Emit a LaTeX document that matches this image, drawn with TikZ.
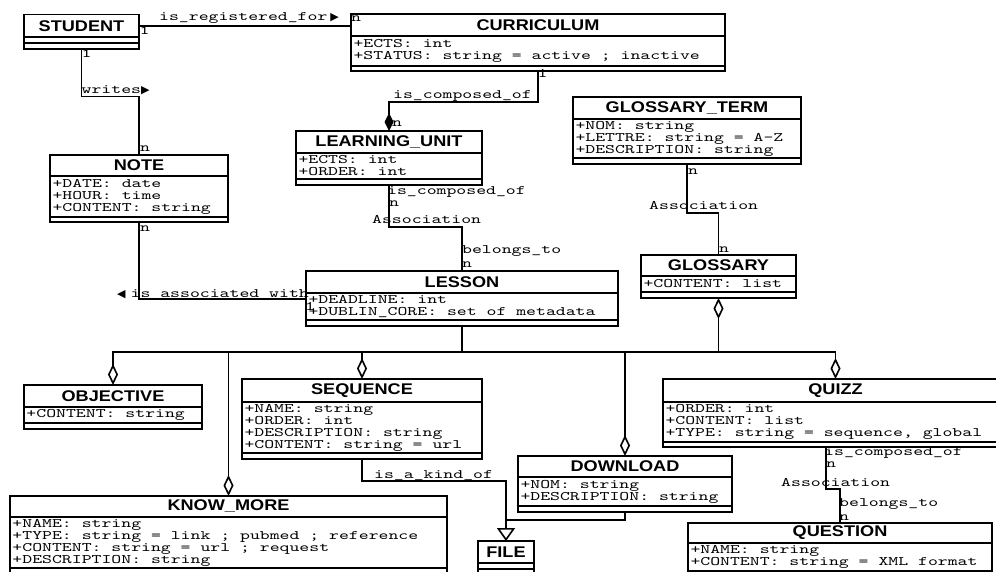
\documentclass[tikz,border=0pt]{standalone}
\usepackage{fontspec}
\newfontfamily\headfont[FakeStretch=1.17]{Liberation Sans}
\newfontfamily\attrfont[FakeStretch=1.45]{lmmono10-regular.otf}
\newfontfamily\symfont{DejaVu Sans}
\usetikzlibrary{arrows.meta}
\newcommand{\ws}{\hphantom{x}}

\begin{document}
\begin{tikzpicture}[x=1pt,y=-1pt,
    classtitle/.style={draw, line width=1.8pt, outer sep=0pt, inner sep=0pt, anchor=north west, minimum height=22, font={\headfont\bfseries\fontsize{15.5}{18}\selectfont}},
    monotext/.style={font={\attrfont\fontsize{13}{12}\selectfont}},
    classattr/.style={draw, line width=1.8pt, outer sep=0pt, inner xsep=2.5pt, inner ysep=0pt, anchor=north west, align=left, monotext},
    classfoot/.style={draw, line width=1.8pt, outer sep=0pt, inner sep=0pt, anchor=north west, minimum height=6},
    assoc/.style={line width=1.6pt},
    aggr/.style={assoc, -{Diamond[open, length=21pt, width=10pt]}},
    comp/.style={assoc, -{Diamond[length=18pt, width=9pt]}},
    gener/.style={assoc, -{Triangle[open, length=13pt, width=18pt]}},
    lbl/.style={inner sep=0pt, anchor=base west, monotext}]
    \useasboundingbox (0,0) rectangle (996,572);
    \clip (0,0) rectangle (996,572);

    %Shape: Class [STUDENT]
    \node[classtitle, minimum width=115, minimum height=22.5] (student) at (24,14.5) {STUDENT};
    \node[classfoot, minimum width=115] (studentattr) at (student.south west) {};
    \node[classfoot, minimum width=115] (studentfoot) at (studentattr.south west) {};
    %Shape: Class [CURRICULUM]
    \node[classtitle, minimum width=374] (curriculum) at (351,14) {CURRICULUM};
    \node[classattr, text width=369, minimum height=30] (curriculumattr) at (curriculum.south west) {+ECTS:\ws int\\+STATUS:\ws string\ws=\ws active\ws;\ws inactive};
    \node[classfoot, minimum width=374, minimum height=5] (curriculumfoot) at (curriculumattr.south west) {};
    %Shape: Class [LEARNING_UNIT]
    \node[classtitle, minimum width=186] (lu) at (296,131) {LEARNING\_UNIT};
    \node[classattr, text width=181, minimum height=26] (luattr) at (lu.south west) {+ECTS:\ws int\\+ORDER:\ws int};
    \node[classfoot, minimum width=186] (lufoot) at (luattr.south west) {};
    %Shape: Class [GLOSSARY_TERM]
    \node[classtitle, minimum width=228] (gt) at (573,97) {GLOSSARY\_TERM};
    \node[classattr, text width=223, minimum height=39] (gtattr) at (gt.south west) {+NOM:\ws string\\+LETTRE:\ws string\ws=\ws A-Z\\+DESCRIPTION:\ws string};
    \node[classfoot, minimum width=228] (gtfoot) at (gtattr.south west) {};
    %Shape: Class [NOTE]
    \node[classtitle, minimum width=178, minimum height=21] (note) at (50,155) {NOTE};
    \node[classattr, text width=173, minimum height=41] (noteattr) at (note.south west) {+DATE:\ws date\\+HOUR:\ws time\\+CONTENT:\ws string};
    \node[classfoot, minimum width=178, minimum height=5] (notefoot) at (noteattr.south west) {};
    %Shape: Class [GLOSSARY]
    \node[classtitle, minimum width=155, minimum height=21] (glossary) at (641,255) {GLOSSARY};
    \node[classattr, text width=150, minimum height=16] (glossaryattr) at (glossary.south west) {+CONTENT:\ws list};
    \node[classfoot, minimum width=155] (glossaryfoot) at (glossaryattr.south west) {};
    %Shape: Class [LESSON]
    \node[classtitle, minimum width=312] (lesson) at (306,271) {LESSON};
    \node[classattr, text width=307, minimum height=27] (lessonattr) at (lesson.south west) {+DEADLINE:\ws int\\+DUBLIN\_CORE:\ws set\ws of\ws metadata};
    \node[classfoot, minimum width=312] (lessonfoot) at (lessonattr.south west) {};
    %Shape: Class [OBJECTIVE]
    \node[classtitle, minimum width=178] (objective) at (24,385) {OBJECTIVE};
    \node[classattr, text width=173, minimum height=16] (objectiveattr) at (objective.south west) {+CONTENT:\ws string};
    \node[classfoot, minimum width=178] (objectivefoot) at (objectiveattr.south west) {};
    %Shape: Class [SEQUENCE]
    \node[classtitle, minimum width=240, minimum height=23] (sequence) at (242,379) {SEQUENCE};
    \node[classattr, text width=235, minimum height=51] (sequenceattr) at (sequence.south west) {+NAME:\ws string\\+ORDER:\ws int\\+DESCRIPTION:\ws string\\+CONTENT:\ws string\ws=\ws url};
    \node[classfoot, minimum width=240] (sequencefoot) at (sequenceattr.south west) {};
    %Shape: Class [QUIZZ]
    \node[classtitle, minimum width=345, minimum height=23] (quizz) at (663,379) {QUIZZ};
    \node[classattr, text width=340, minimum height=40] (quizzattr) at (quizz.south west) {+ORDER:\ws int\\+CONTENT:\ws list\\+TYPE:\ws string\ws=\ws sequence,\ws global};
    \node[classfoot, minimum width=345, minimum height=5] (quizzfoot) at (quizzattr.south west) {};
    %Shape: Class [DOWNLOAD]
    \node[classtitle, minimum width=214, minimum height=21] (download) at (518,456) {DOWNLOAD};
    \node[classattr, text width=209, minimum height=29] (downloadattr) at (download.south west) {+NOM:\ws string\\+DESCRIPTION:\ws string};
    \node[classfoot, minimum width=214] (downloadfoot) at (downloadattr.south west) {};
    %Shape: Class [KNOW_MORE]
    \node[classtitle, minimum width=437, minimum height=21] (knowmore) at (10,496) {KNOW\_MORE};
    \node[classattr, text width=432, minimum height=51] (knowmoreattr) at (knowmore.south west) {+NAME:\ws string\\+TYPE:\ws string\ws=\ws link\ws;\ws pubmed\ws;\ws reference\\+CONTENT:\ws string\ws=\ws url\ws;\ws request\\+DESCRIPTION:\ws string};
    \node[classfoot, minimum width=437] (knowmorefoot) at (knowmoreattr.south west) {};
    %Shape: Class [FILE]
    \node[classtitle, minimum width=56] (file) at (478,541) {FILE};
    \node[classfoot, minimum width=56] (fileattr) at (file.south west) {};
    \node[classfoot, minimum width=56] (filefoot) at (fileattr.south west) {};
    %Shape: Class [QUESTION]
    \node[classtitle, minimum width=304, minimum height=20] (question) at (688,523) {QUESTION};
    \node[classattr, text width=299, minimum height=28] (questionattr) at (question.south west) {+NAME:\ws string\\+CONTENT:\ws string\ws=\ws XML\ws format};

    %Straight Lines [is_registered_for]
    \draw[assoc] (student.east) -- (student.east -| curriculum.west);
    %Straight Lines [writes]
    \coordinate (writesbend) at (81.5,96.5);
    \draw[assoc] (studentfoot.south) -- (writesbend) -| (note.north);
    %Straight Lines [is_associated_with]
    \coordinate (notebend) at (139,299);
    \draw[assoc] (notefoot.south) -- (notebend) -- (notebend -| lessonattr.west);
    %Straight Lines [is_composed_of]
    \coordinate (curbend) at (538,102);
    \draw[comp] (curriculumfoot.south) -- (curbend) -| (lu.north);
    %Straight Lines [lesson association]
    \coordinate (lubend) at (389,227);
    \draw[assoc] (lufoot.south) -- (lubend) -| (lesson.north);
    %Straight Lines [glossary association]
    \coordinate (gtbend) at (687,213);
    \draw[assoc] (gtfoot.south) -- (gtbend) -| (glossary.north);
    %Straight Lines [aggregations]
    \coordinate (hub) at (462,352);
    \draw[assoc] (lessonfoot.south) -- (hub);
    \foreach \part in {objective, knowmore, sequence, download, quizz}
        \draw[aggr] (hub) -| (\part.north);
    \draw[aggr] (hub) -| (glossaryfoot.south);
    %Straight Lines [is_a_kind_of]
    \coordinate (seqbend) at (362,481);
    \draw[gener] (sequencefoot.south) -- (seqbend) -| (file.north);
    \coordinate (dlbend) at (625,520);
    \draw[assoc] (downloadfoot.south) -- (dlbend) -- (dlbend -| file.north);
    %Straight Lines [question association]
    \coordinate (quizzbend) at (826,489);
    \draw[assoc] (quizzbend |- quizzfoot.south) -- (quizzbend) -| (question.north);

    % Text Node
    \node[lbl] (regfor) at (159,21) {is\_registered\_for\hspace{3pt}{\symfont\fontsize{11}{11}\selectfont ▶}};
    \node[lbl] (regone) at (139.5,35) {1};
    \node[lbl] (regn) at (351,21.5) {n};
    % Text Node
    \node[lbl] (writesone) at (81.5,58) {1};
    \node[lbl] (writes) at (81.5,94) {writes{\symfont\fontsize{11}{11}\selectfont ▶}};
    \node[lbl] (writesn) at (140,152) {n};
    % Text Node
    \node[lbl] (noten) at (140,232) {n};
    \node[lbl] (isassoc) at (117,297) {{\symfont\fontsize{11}{11}\selectfont ◀}\hspace{5pt}is\_associated\_with};
    \node[lbl] (lessonone) at (305,310) {1};
    % Text Node
    \node[lbl] (curone) at (537.5,78) {1};
    \node[lbl] (curcomp) at (393,99) {is\_composed\_of};
    \node[lbl] (lun) at (392,127) {n};
    % Text Node
    \node[lbl] (lucomp) at (387,195) {is\_composed\_of};
    \node[lbl] (lucompn) at (389,207) {n};
    \node[lbl] (luassoc) at (372,224) {Association};
    \node[lbl] (lubelongs) at (462,254) {belongs\_to};
    \node[lbl] (lessonn) at (462,267) {n};
    % Text Node
    \node[lbl] (gtn) at (688,175) {n};
    \node[lbl] (gtassoc) at (649,210) {Association};
    \node[lbl] (glossaryn) at (719,252) {n};
    % Text Node
    \node[lbl] (kindof) at (374,478) {is\_a\_kind\_of};
    % Text Node
    \node[lbl] (quizzcomp) at (824,455) {is\_composed\_of};
    \node[lbl] (quizzn) at (826,467) {n};
    \node[lbl] (quizzassoc) at (781,486) {Association};
    \node[lbl] (quizzbelongs) at (839,506) {belongs\_to};
    \node[lbl] (questionn) at (839,520) {n};
\end{tikzpicture}
\end{document}
